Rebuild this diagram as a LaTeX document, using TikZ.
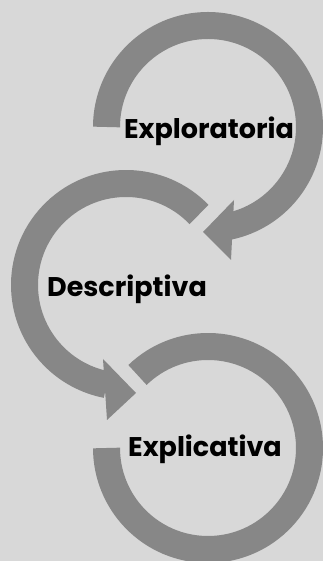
\documentclass[tikz,border=0pt]{standalone}
\usepackage{fontspec}
\setmainfont{Poppins}
\usepackage{xcolor}
\definecolor{bggray}{HTML}{D8D8D8}
\definecolor{arcgray}{HTML}{878787}

\begin{document}
\begin{tikzpicture}[x=1pt, y=1pt,
  band/.style={draw=arcgray, line width=27pt},
  head/.style={fill=arcgray},
  every node/.style={font=\fontsize{27}{27}\selectfont\bfseries, anchor=base, inner sep=0pt}]
\clip (0,0) rectangle (323,561);
\fill[bggray] (0,0) rectangle (323,561);

\coordinate (c1) at (208,434);
\coordinate (c2) at (126,276);
\coordinate (c3) at (208,113);

\draw[band] (c1) ++(180:101.5pt) arc[start angle=180, end angle=-78, radius=101.5pt];
\fill[head] (234,361) -- (231,301) -- (203,329) -- cycle;
\draw[band] (c2) ++(44:101.5pt) arc[start angle=44, end angle=259, radius=101.5pt];
\fill[head] (103,202) -- (107,141) -- (136,168) -- cycle;
\draw[band] (c3) ++(134:101.5pt) arc[start angle=134, end angle=-180, radius=101.5pt];

\node (explo) at (209,422) {Exploratoria};
\node (descr) at (127,264) {Descriptiva};
\node (expli) at (205,104) {Explicativa};
\end{tikzpicture}
\end{document}
